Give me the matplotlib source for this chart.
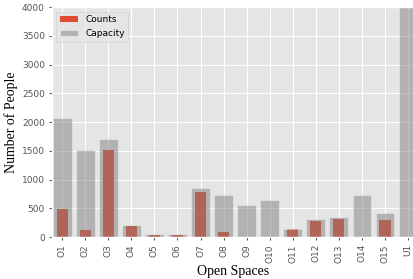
import matplotlib

matplotlib.use("Agg")
import matplotlib.pyplot as plt
import numpy as np

spaces = ["O1", "O2", "O3", "O4", "O5", "O6", "O7", "O8", "O9", "O10",
          "O11", "O12", "O13", "O14", "O15", "U1"]
counts = [483, 118, 1525, 187, 41, 41, 782, 95, 0, 0, 134, 278, 318, 0, 306, 0]
capacity = [2070, 1525, 1700, 204, 52, 52, 852, 730, 555, 645, 147, 310, 345, 730, 428, 5000]

plt.style.use("ggplot")
fig = plt.figure(figsize=(4.14, 2.79), dpi=100)
ax = fig.add_axes([0.125, 0.15, 0.875, 0.824])

x = np.arange(len(spaces))
ax.bar(x, counts, width=0.5, color="#E24A33", label="Counts")
ax.bar(x, capacity, width=0.8, color="gray", alpha=0.5, edgecolor="#EEEEEE",
       linewidth=0.8, label="Capacity")

ax.set_xlim(-0.46, 15.27)
ax.set_ylim(0, 4000)
ax.set_xticks(x)
ax.set_xticklabels(spaces, rotation=90)
ax.tick_params(axis="both", labelsize=6.5, length=2.5, pad=2.5, color="#555555")
ax.set_xlabel("Open Spaces", family="Liberation Serif", fontsize=10,
              color="black", labelpad=2)
ax.set_ylabel("Number of People", family="Liberation Serif", fontsize=10,
              color="black", labelpad=3)
ax.legend(loc="upper left", fontsize=6.5)

fig.savefig("out.png", dpi=100)
